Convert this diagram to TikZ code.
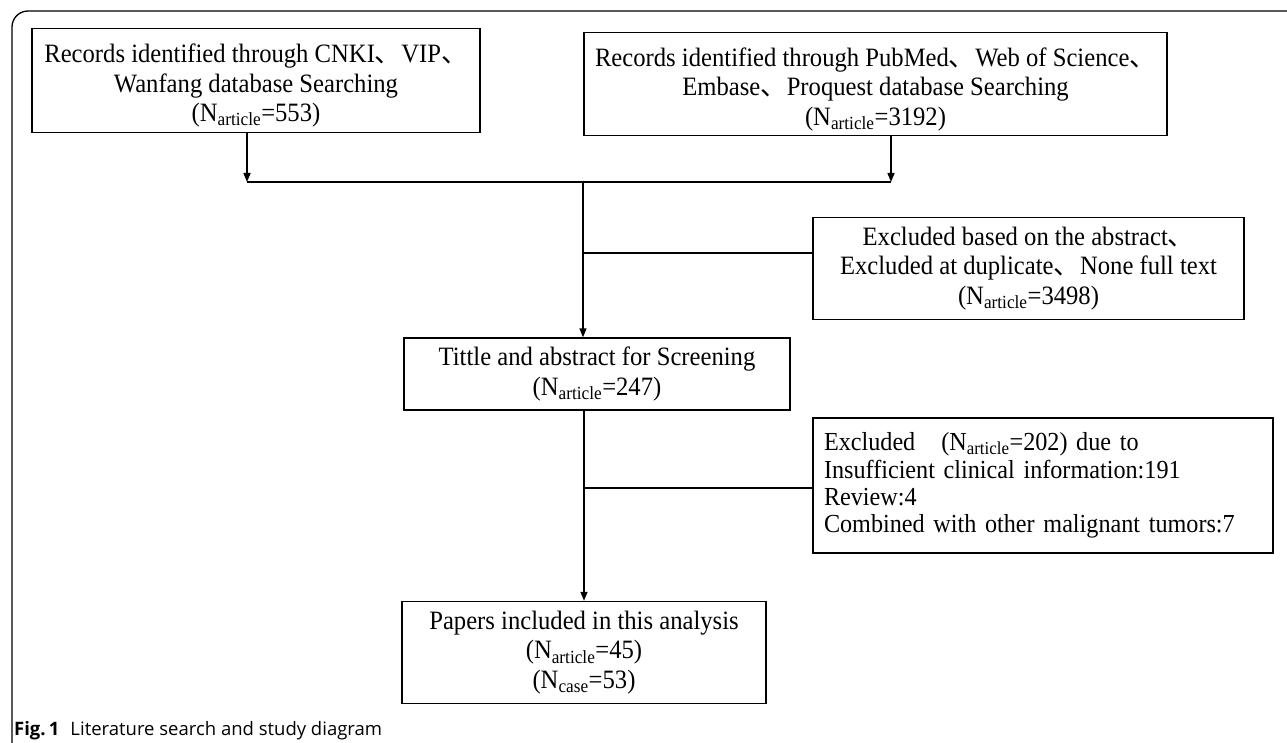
\documentclass[tikz,border=0pt]{standalone}
\usepackage{fontspec}
\setmainfont[FakeStretch=0.93]{Liberation Serif}
\newfontfamily\cjk{Noto Sans CJK SC}
\newfontfamily\capfont{Open Sans}
\usetikzlibrary{arrows.meta}
\newcommand\dn{{\cjk 、}}
\newcommand\Nsub[1]{N\textsubscript{#1}}
\newcommand\topst{\rule{0pt}{29pt}}
\tikzset{
  box/.style={draw=black, line width=1.4pt, fill=white, align=center, inner sep=0pt,
    font=\fontsize{26.5}{29.5}\selectfont},
  conn/.style={draw=black, line width=1.4pt},
  arr/.style={conn, -{Triangle[length=9pt,width=7pt]}},
  frame/.style={draw=black, line width=1.3pt}
}
\begin{document}
\begin{tikzpicture}[x=1pt,y=-1pt]
\useasboundingbox (0,0) rectangle (1287,743);
% outer frame
\draw[frame] (12,743) -- (12,27) arc[start angle=180,end angle=270,radius=16] -- (1287,11);

\node[box, minimum width=448pt, minimum height=104pt] (b1) at (256,80.5)
  {\topst Records identified through CNKI\dn VIP\dn\\Wanfang database Searching\\(\Nsub{article}=553)};
\node[box, minimum width=583pt, minimum height=103pt] (b2) at (875.5,84)
  {\topst Records identified through PubMed\dn Web of Science\dn\\Embase\dn Proquest database Searching\\(\Nsub{article}=3192)};
\node[box, minimum width=431pt, minimum height=102pt] (e1) at (1028.5,268.5)
  {Excluded based on the abstract\dn\\Excluded at duplicate\dn None full text\\(\Nsub{article}=3498)};
\node[box, minimum width=386pt, minimum height=72pt] (b3) at (597,374)
  {Tittle and abstract for Screening\\(\Nsub{article}=247)};
\node[box, text width=438pt, inner xsep=11pt, align=left, minimum height=135pt,
  font=\fontsize{26}{27.2}\selectfont] (e2) at (1043,485.5)
  {Excluded\hspace*{1em}(\Nsub{article}=202) due to\\Insufficient clinical information:191\\Review:4\\Combined with other malignant tumors:7};
\node[box, minimum width=364pt, minimum height=102pt] (b4) at (584,652.5)
  {Papers included in this analysis\\(\Nsub{article}=45)\\(\Nsub{case}=53)};

\coordinate (j1) at (247,182);
\coordinate (j2) at (891,182);
\coordinate (m1) at (583,182);
\coordinate (br1) at (583,253);
\coordinate (m2) at (584,410);
\coordinate (br2) at (584,488);

\draw[arr] (b1.south -| j1) -- (j1);
\draw[arr] (b2.south -| j2) -- (j2);
\draw[conn] (j1) -- (j2);
\draw[arr] (m1) -- (b3.north -| m1);
\draw[conn] (br1) -- (br1 -| e1.west);
\draw[arr] (b3.south -| m2) -- (b4.north -| m2);
\draw[conn] (br2) -- (br2 -| e2.west);

\node[anchor=base west, inner sep=0pt, font=\capfont\fontsize{18.5}{22}\selectfont] (cap) at (14,735)
  {{\bfseries Fig.\,1}\hspace{0.6em}Literature search and study diagram};
\end{tikzpicture}
\end{document}
